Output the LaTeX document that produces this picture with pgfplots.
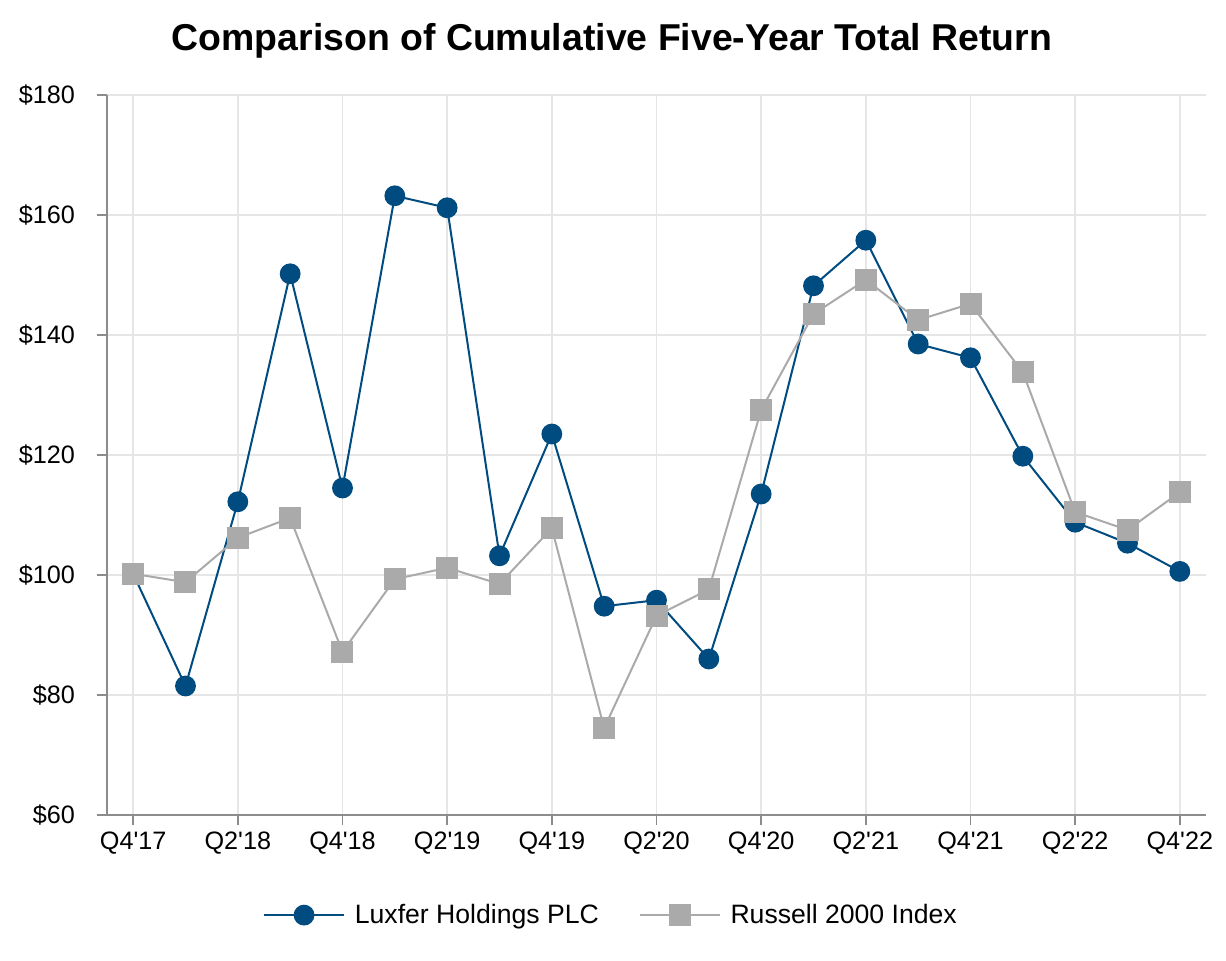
\documentclass[border=0pt]{standalone}
\usepackage{fontspec}
\setmainfont{Liberation Sans}[Ligatures=TeXOff]
\usepackage{pgfplots}
\pgfplotsset{compat=1.18}

\definecolor{luxblue}{RGB}{0,75,128}
\definecolor{rusgray}{RGB}{170,170,170}
\definecolor{gridgray}{RGB}{230,230,230}
\definecolor{axisgray}{RGB}{140,140,140}

\begin{document}
\begin{tikzpicture}
% page frame: 1226x960 px at 0.5pt per px, axis box at (0,0)
\path[use as bounding box] (-53.5pt,-72.5pt) rectangle (559.5pt,407.5pt);

\begin{axis}[
  scale only axis,
  width=549.5pt, height=360pt,
  xmin=-0.5, xmax=20.5,
  ymin=60, ymax=180,
  axis x line*=bottom, axis y line*=left,
  axis line style={axisgray, line width=0.75pt},
  xtick={0,2,...,20},
  xticklabels={Q4'17,Q2'18,Q4'18,Q2'19,Q4'19,Q2'20,Q4'20,Q2'21,Q4'21,Q2'22,Q4'22},
  ytick={60,80,...,180},
  yticklabels={\$60,\$80,\$100,\$120,\$140,\$160,\$180},
  tick align=outside,
  major tick length=5pt,
  tick style={axisgray, line width=0.75pt},
  ymajorgrids, xmajorgrids,
  grid style={gridgray, line width=0.75pt},
  tick label style={font=\fontsize{12.6}{15}\selectfont, black},
  yticklabel style={xshift=-7.5pt},
  clip=false,
  legend columns=2,
  legend style={at={(axis description cs:0.4595,-0.139)}, anchor=center,
    draw=none, fill=none, font=\fontsize{13.3}{16}\selectfont,
    /tikz/every odd column/.append style={column sep=3pt},
    /tikz/every even column/.append style={column sep=18pt}},
  legend image code/.code={
    \draw[mark repeat=2, mark phase=2] plot coordinates {(0cm,0cm) (0.7cm,0cm) (1.4cm,0cm)};
  },
]
% Luxfer Holdings PLC
\addplot[color=luxblue, line width=1pt, mark=*, mark size=4.7pt,
  mark options={fill=luxblue, draw=luxblue}] coordinates {
  (0,100.2) (1,81.5) (2,112.2) (3,150.2) (4,114.5) (5,163.2) (6,161.2)
  (7,103.2) (8,123.5) (9,94.8) (10,95.8) (11,86.0) (12,113.5) (13,148.2)
  (14,155.8) (15,138.5) (16,136.2) (17,119.8) (18,108.8) (19,105.3) (20,100.6)
};
% Russell 2000 Index
\addplot[color=rusgray, line width=1pt, mark=square*, mark size=5pt,
  mark options={fill=rusgray, draw=rusgray}] coordinates {
  (0,100.2) (1,98.8) (2,106.2) (3,109.5) (4,87.2) (5,99.3) (6,101.2)
  (7,98.5) (8,107.8) (9,74.5) (10,93.2) (11,97.6) (12,127.5) (13,143.5)
  (14,149.2) (15,142.5) (16,145.2) (17,133.8) (18,110.5) (19,107.5) (20,113.8)
};
\legend{Luxfer Holdings PLC, Russell 2000 Index}
\end{axis}

\node[font=\bfseries\fontsize{18.7}{22}\selectfont] at (252.5pt,387pt)
  {Comparison of Cumulative Five-Year Total Return};
\end{tikzpicture}
\end{document}
